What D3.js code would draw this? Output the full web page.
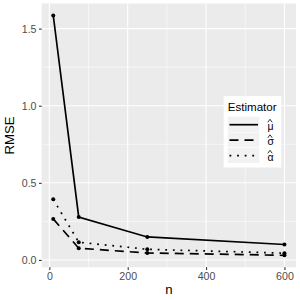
<!DOCTYPE html>
<html><head><meta charset="utf-8">
<script src="https://d3js.org/d3.v7.min.js"></script>
<style>body{margin:0;background:#fff}svg{display:block}text{font-family:"Liberation Sans",Arial,sans-serif;font-weight:400}</style>
</head><body>
<svg id="c" width="300" height="300"></svg>
<script>
const nValues = [10, 75, 250, 600];
const muRMSE = [1.585, 0.278, 0.149, 0.100];
const sigmaRMSE = [0.266, 0.076, 0.045, 0.030];
const alphaRMSE = [0.393, 0.115, 0.069, 0.044];
const seriesNames = ["μ", "σ", "α"];
const xTicks = [0, 200, 400, 600];
const xMinor = [100, 300, 500];
const yTicks = [0, 0.5, 1.0, 1.5];
const yMinor = [0.25, 0.75, 1.25];

const series = [
  {name: seriesNames[0], values: muRMSE, dash: null},
  {name: seriesNames[1], values: sigmaRMSE, dash: "9,6"},
  {name: seriesNames[2], values: alphaRMSE, dash: "1.8,5.8"}
];

const svg = d3.select("#c");
const pL = 41.7, pR = 296, pT = 3.5, pB = 267.3;
const allY = muRMSE.concat(sigmaRMSE, alphaRMSE);
const xe = d3.extent(nValues), ye = d3.extent(allY);
const xr = xe[1]-xe[0], yr = ye[1]-ye[0];
const x = d3.scaleLinear().domain([xe[0]-0.05*xr, xe[1]+0.05*xr]).range([pL, pR]);
const y = d3.scaleLinear().domain([ye[0]-0.05*yr, ye[1]+0.05*yr]).range([pB, pT]);

svg.append("rect").attr("x", pL).attr("y", pT).attr("width", pR-pL).attr("height", pB-pT).attr("fill", "#EBEBEB");
const g = svg.append("g");
g.selectAll(".xm").data(xMinor).join("line").attr("x1", d=>x(d)).attr("x2", d=>x(d)).attr("y1", pT).attr("y2", pB).attr("stroke", "#fff").attr("stroke-width", 0.55);
g.selectAll(".ym").data(yMinor).join("line").attr("y1", d=>y(d)).attr("y2", d=>y(d)).attr("x1", pL).attr("x2", pR).attr("stroke", "#fff").attr("stroke-width", 0.55);
g.selectAll(".xg").data(xTicks).join("line").attr("x1", d=>x(d)).attr("x2", d=>x(d)).attr("y1", pT).attr("y2", pB).attr("stroke", "#fff").attr("stroke-width", 1.1);
g.selectAll(".yg").data(yTicks).join("line").attr("y1", d=>y(d)).attr("y2", d=>y(d)).attr("x1", pL).attr("x2", pR).attr("stroke", "#fff").attr("stroke-width", 1.1);

// axes
const xAxis = d3.axisBottom(x).tickValues(xTicks).tickSize(2.7).tickPadding(2.5).tickFormat(d3.format("d"));
const yAxis = d3.axisLeft(y).tickValues(yTicks).tickSize(2.7).tickPadding(2.5).tickFormat(d3.format(".1f"));
const gx = svg.append("g").attr("transform", `translate(0,${pB})`).call(xAxis);
const gy = svg.append("g").attr("transform", `translate(${pL},0)`).call(yAxis);
[gx, gy].forEach(a => {
  a.select(".domain").remove();
  a.selectAll(".tick line").attr("stroke", "#333").attr("stroke-width", 1.1);
  a.selectAll(".tick text").attr("fill", "#4D4D4D").attr("font-size", 10.6).attr("font-family", '"Liberation Sans",Arial,sans-serif');
});
svg.append("text").attr("x", (pL+pR)/2).attr("y", 294).attr("text-anchor", "middle").attr("font-size", 13.2).attr("font-weight", 400).attr("fill", "#000").text("n");
svg.append("text").attr("transform", `translate(13.5,${(pT+pB)/2}) rotate(-90)`).attr("text-anchor", "middle").attr("font-size", 13.2).attr("font-weight", 400).attr("fill", "#000").text("RMSE");

// lines
const line = d3.line().x(d=>x(d[0])).y(d=>y(d[1]));
series.forEach(s => {
  const pts = nValues.map((n,i)=>[n, s.values[i]]);
  svg.append("path").datum(pts).attr("d", line).attr("fill", "none").attr("stroke", "#000").attr("stroke-width", 1.7)
    .attr("stroke-dasharray", s.dash);
  svg.selectAll(null).data(pts).join("circle").attr("cx", d=>x(d[0])).attr("cy", d=>y(d[1])).attr("r", 2).attr("fill", "#000");
});

// legend
const lg = svg.append("g");
lg.append("rect").attr("x", 223.7).attr("y", 96).attr("width", 57.5).attr("height", 71.5).attr("fill", "#fff");
lg.append("text").attr("x", 227.7).attr("y", 110.5).attr("font-size", 11.6).attr("fill", "#000").text("Estimator");
series.forEach((s,i) => {
  const ky = 116.7 + i*15.5;
  lg.append("rect").attr("x", 227.7).attr("y", ky).attr("width", 32).attr("height", 15.5).attr("fill", "#F2F2F2").attr("stroke", "#fff").attr("stroke-width", 0.5);
  lg.append("line").attr("x1", 229.5).attr("x2", 258).attr("y1", ky+8).attr("y2", ky+8).attr("stroke", "#000").attr("stroke-width", 1.7).attr("stroke-dasharray", s.dash);
  lg.append("text").attr("x", 267.5).attr("y", ky+13).attr("font-size", 10.5).attr("fill", "#000").text(s.name);
  // hat accent
  lg.append("path").attr("d", `M${267.8},${ky+5.6}L${270},${ky+2.6}L${272.2},${ky+5.6}`).attr("fill", "none").attr("stroke", "#000").attr("stroke-width", 0.8);
});
</script>
</body></html>
